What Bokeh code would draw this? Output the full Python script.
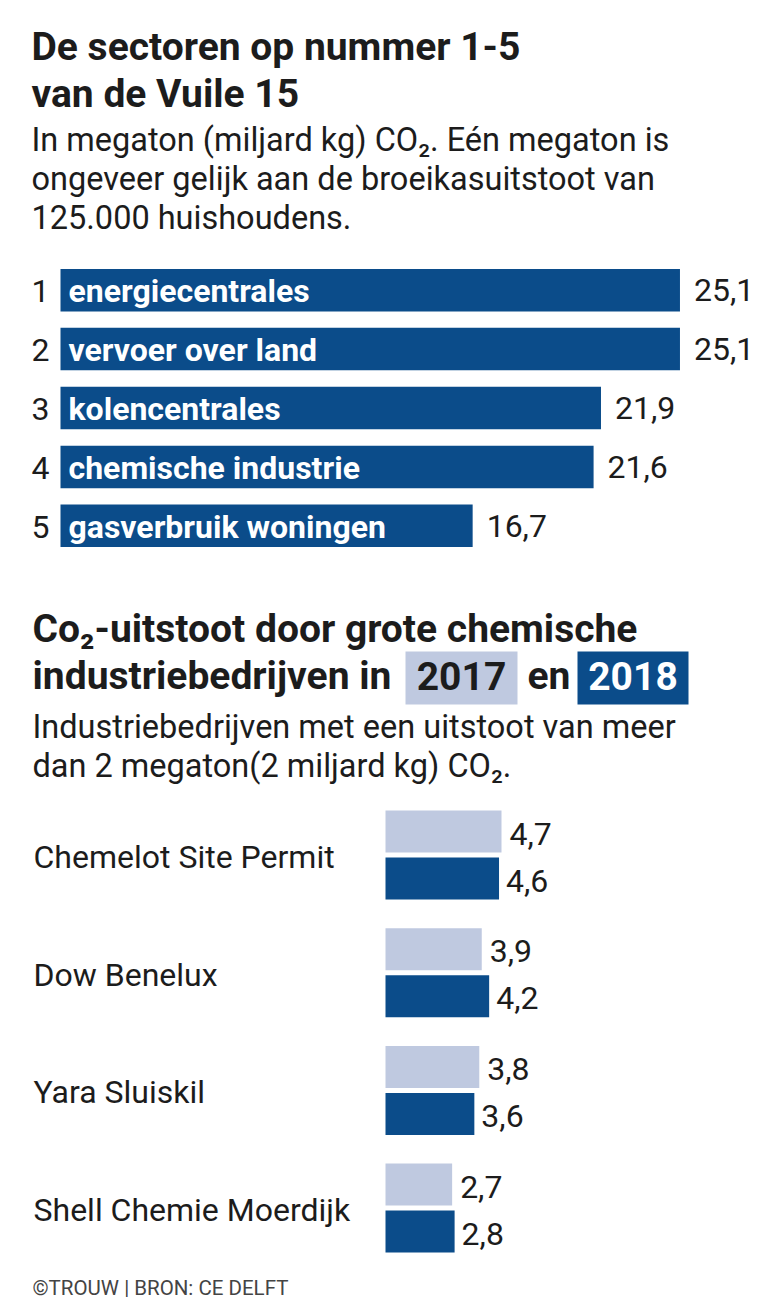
from bokeh.plotting import figure
from bokeh.models import Range1d, ColumnDataSource
from bokeh.layouts import column
from bokeh.embed import file_html
from bokeh.resources import INLINE
from bokeh.core.properties import value
from bokeh.transform import dodge

# ---------------- data ----------------
ranks = [1, 2, 3, 4, 5]
sectors = ["energiecentrales", "vervoer over land", "kolencentrales",
           "chemische industrie", "gasverbruik woningen"]
sector_values = [25.1, 25.1, 21.9, 21.6, 16.7]

companies = ["Chemelot Site Permit", "Dow Benelux", "Yara Sluiskil",
             "Shell Chemie Moerdijk"]
values_2017 = [4.7, 3.9, 3.8, 2.7]
values_2018 = [4.6, 4.2, 3.6, 2.8]

# ---------------- style ----------------
DARK = "#0b4c8a"
LIGHT = "#bfc9e0"
INK = "#1c1c1c"
FONT = "Roboto"
W = 755
PX = 24.68  # pixels per megaton
TITLE_FS = "39px"
SUB_FS = "32.5px"
LAB_FS = "32px"


def fmt(v):
    return f"{v:.1f}".replace(".", ",")


def make_fig(h, xr, yr):
    p = figure(width=W, height=h, x_range=xr, y_range=yr,
               output_backend="svg", toolbar_location=None,
               x_axis_location=None, y_axis_location=None,
               min_border=0, tools="")
    p.grid.visible = False
    p.outline_line_color = None
    p.background_fill_color = "white"
    p.border_fill_color = "white"
    return p


def txt(p, xs, ys, texts, size, bold=False, color=INK, align="left"):
    p.text(x=xs, y=ys, text=texts, text_font=value(FONT),
           text_font_size=size, text_font_style="bold" if bold else "normal",
           text_color=color, text_baseline="middle", text_align=align)


# ---------------- figure 1 ----------------
H1 = 580
X0_1 = 60.0
PITCH1 = 58.9
TOP1 = 1 - 289.7 / PITCH1
xr1 = Range1d(-X0_1 / PX, (W - X0_1) / PX)
yr1 = Range1d(start=TOP1 + H1 / PITCH1, end=TOP1)


def X1(px):
    return (px - X0_1) / PX


def Y1(py):
    return TOP1 + py / PITCH1


p1 = make_fig(H1, xr1, yr1)
src1 = ColumnDataSource(dict(rank=ranks, rank_str=[str(r) for r in ranks],
                             sector=sectors, value=sector_values,
                             label=[fmt(v) for v in sector_values]))
p1.hbar(y="rank", left=0, right="value", height=42.5 / PITCH1,
        fill_color=DARK, line_color=None, source=src1)
p1.text(x=X1(31), y="rank", text="rank_str", source=src1, y_offset=1,
        text_font=value(FONT), text_font_size=LAB_FS, text_color=INK,
        text_baseline="middle", text_align="left")
p1.text(x=0, y="rank", text="sector", source=src1, x_offset=8, y_offset=1,
        text_font=value(FONT), text_font_size=LAB_FS, text_font_style="bold",
        text_color="white", text_baseline="middle", text_align="left")
p1.text(x="value", y="rank", text="label", source=src1, x_offset=14,
        text_font=value(FONT), text_font_size=LAB_FS, text_color=INK,
        text_baseline="middle", text_align="left")

title1 = ["De sectoren op nummer 1-5", "van de Vuile 15"]
txt(p1, [X1(31)] * 2, [Y1(46.5), Y1(93.5)], title1, TITLE_FS, bold=True)
sub1 = ["In megaton (miljard kg) CO\u2082. Eén megaton is",
        "ongeveer gelijk aan de broeikasuitstoot van",
        "125.000 huishoudens."]
txt(p1, [X1(31)] * 3, [Y1(139.5), Y1(178.5), Y1(217.5)], sub1, SUB_FS)

# ---------------- figure 2 ----------------
H2 = 722
TOP_PAGE2 = 580
X0_2 = 385.0
PITCH2 = 117.7
TOP2 = 0 - 274.5 / PITCH2
xr2 = Range1d(-X0_2 / PX, (W - X0_2) / PX)
yr2 = Range1d(start=TOP2 + H2 / PITCH2, end=TOP2)


def X2(px):
    return (px - X0_2) / PX


def Y2(page_y):
    return TOP2 + (page_y - TOP_PAGE2) / PITCH2


p2 = make_fig(H2, xr2, yr2)
idx = list(range(len(companies)))
src2 = ColumnDataSource(dict(idx=idx, company=companies,
                             v17=values_2017, v18=values_2018,
                             l17=[fmt(v) for v in values_2017],
                             l18=[fmt(v) for v in values_2018]))
OFF = 23.5 / PITCH2
BH = 42 / PITCH2
p2.hbar(y=dodge("idx", -OFF, range=yr2), left=0, right="v17", height=BH,
        fill_color=LIGHT, line_color=None, source=src2)
p2.hbar(y=dodge("idx", OFF, range=yr2), left=0, right="v18", height=BH,
        fill_color=DARK, line_color=None, source=src2)
p2.text(x="v17", y=dodge("idx", -OFF, range=yr2), text="l17", source=src2,
        x_offset=8, y_offset=2, text_font=value(FONT), text_font_size=LAB_FS,
        text_color=INK, text_baseline="middle", text_align="left")
p2.text(x="v18", y=dodge("idx", OFF, range=yr2), text="l18", source=src2,
        x_offset=7, y_offset=2, text_font=value(FONT), text_font_size=LAB_FS,
        text_color=INK, text_baseline="middle", text_align="left")
p2.text(x=X2(33), y="idx", text="company", source=src2, y_offset=2,
        text_font=value(FONT), text_font_size=LAB_FS, text_color=INK,
        text_baseline="middle", text_align="left")

# title 2
txt(p2, [X2(32)], [Y2(628.5)], ["Co\u2082-uitstoot door grote chemische"],
    TITLE_FS, bold=True)
txt(p2, [X2(32)], [Y2(675)], ["industriebedrijven in"], TITLE_FS, bold=True)
# year key boxes
p2.quad(left=[X2(405), X2(577)], right=[X2(517), X2(688)],
        top=[Y2(651), Y2(651)], bottom=[Y2(704), Y2(704)],
        fill_color=[LIGHT, DARK], line_color=None)
p2.text(x=[X2(461), X2(548.5), X2(632.5)], y=[Y2(675)] * 3,
        text=["2017", "en", "2018"],
        text_color=[INK, INK, "white"],
        text_font=value(FONT), text_font_size=TITLE_FS, text_font_style="bold",
        text_baseline="middle", text_align="center")
sub2 = ["Industriebedrijven met een uitstoot van meer",
        "dan 2 megaton(2 miljard kg) CO\u2082."]
txt(p2, [X2(32)] * 2, [Y2(726), Y2(765)], sub2, SUB_FS)
txt(p2, [X2(32)], [Y2(1287.5)], ["©TROUW | BRON: CE DELFT"], "20.5px",
    color="#444444")

layout = column(p1, p2, spacing=0)
open("out.html", "w").write(file_html(layout, INLINE))
